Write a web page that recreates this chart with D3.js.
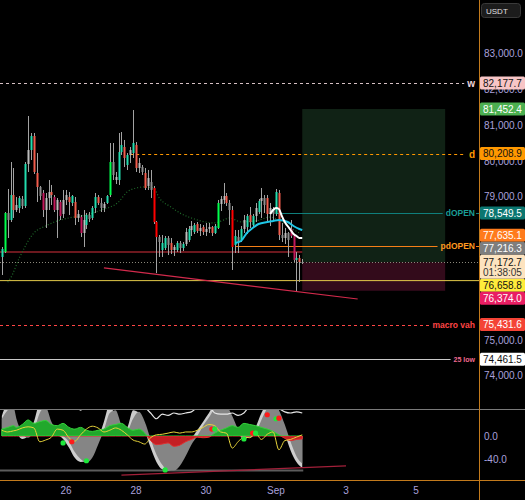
<!DOCTYPE html>
<html lang="en">
<head>
<meta charset="UTF-8">
<title>BTCUSDT 2h</title>
<script src="https://d3js.org/d3.v7.min.js"></script>
<style>
  body { margin: 0; background: #000; }
  svg { display: block; }
  .lbl { font-family: "Liberation Sans", Arial, sans-serif; font-size: 10px; fill: #a9a1dc; }
  .tag { font-family: "Liberation Sans", Arial, sans-serif; font-weight: bold; }
</style>
</head>
<body>
<svg id="chart" width="525" height="500"></svg>
<script>
// ---- candles (2h bars, first bar Aug 24 04:00 UTC) ----
var firstBar = Date.UTC(2024, 7, 24, 4);
var barMs = 2 * 3600 * 1000;

var open = [
  77319,77458,78548,78352,79050,78631,78687,78939,78743,79916,
  80307,80698,79665,79274,79106,78631,78966,79134,78994,78631,
  78855,78520,78911,78994,78827,78855,78408,78436,77989,78212,
  78492,78408,78687,78994,78827,78687,78827,79050,79972,79469,
  79469,80251,80391,79888,80168,80223,80447,79804,79832,79665,
  79302,79413,79246,78296,77877,77514,77570,77849,77710,77514,
  77514,77710,77570,77682,77793,78073,78017,78240,78045,78157,
  78017,78101,78157,77989,78129,78799,78911,79022,78827,78631,
  77654,77877,77793,78101,78157,78492,78212,78464,78575,78883,
  78966,78966,78520,78659,78520,79106,77933,77849,77989,78101,
  77905,77235,77291,77179];
var high = [
  77598,78575,79218,79972,79804,78994,79022,79022,79972,81257,
  80782,80782,80223,79302,79190,79106,79469,79330,79050,78966,
  78911,79190,79190,79134,79050,78994,78631,78492,78631,78548,
  78575,78743,79106,79050,78966,78855,79050,80503,80503,79693,
  80782,80810,80587,80223,80391,81424,80531,80084,79888,79804,
  79749,79749,79302,78324,77933,77933,77905,77905,77849,77654,
  77765,77765,77737,78129,78184,78324,78268,78296,78240,78212,
  78268,78268,78184,78240,78911,79022,79385,79106,78911,78743,
  78073,78073,78184,78492,78520,78715,78520,78827,78939,79246,
  79050,79050,78827,78715,79218,79190,78268,78129,78017,78352,
  77933,77458,77374,77263];
var low = [
  76816,77430,77849,78296,78408,78575,78548,78659,78687,79693,
  80028,79637,78855,78911,78436,78129,78631,78771,78575,77849,
  78352,78408,78771,78492,78743,78212,78296,77877,77598,78101,
  78296,78352,78548,78771,78575,78575,78799,78994,79469,79357,
  79330,80168,79832,79749,79944,80084,79693,79665,79609,79190,
  79190,78966,78240,76869,77319,77319,77514,77374,77402,77346,
  77458,77430,77486,77626,77737,77905,77961,77989,77905,77933,
  77905,77989,77905,77961,78101,78603,78799,78743,78212,76956,
  77430,77430,77737,77989,77961,78129,78129,78296,78520,78408,
  78548,78296,78184,78352,78464,77793,77737,77682,77319,77849,
  77179,76369,76620,77123];
var close = [
  77542,78548,78352,79050,78631,78771,78966,78743,79916,80307,
  80698,79693,79274,79022,78631,78966,79134,79050,78631,78911,
  78464,78911,79050,78855,79022,78408,78520,77989,78352,78492,
  78380,78687,78994,78827,78687,78799,79022,79972,79609,79553,
  80251,80447,80084,80168,80307,80503,79804,79944,79693,79246,
  79525,79190,78296,77877,77737,77710,77849,77654,77514,77598,
  77710,77570,77682,78017,78101,78184,78212,78045,78129,78017,
  78101,78157,77989,78184,78827,78939,79022,78827,78631,77598,
  77905,77737,78101,78352,78464,78296,78464,78687,78883,78966,
  78771,78520,78687,78520,79134,77933,77849,77989,77793,77905,
  77235,77291,77179,77172.7];
// volume class: 0 normal, 1 above average, 2 climax, 3 other
var barClass = [
  1,2,0,1,1,0,1,0,1,0, 1,1,1,0,3,0,0,1,3,0,
  3,0,0,1,1,1,0,3,0,1, 0,1,1,1,0,0,1,2,0,0,
  1,1,1,1,0,1,1,0,0,1, 0,0,2,2,0,1,1,0,1,0,
  1,0,1,0,1,0,1,1,0,1, 0,0,1,1,2,0,0,1,0,2,
  1,0,1,0,1,1,1,0,1,0, 0,1,0,0,1,1,0,0,0,3,
  3,1,1,0];

// ---- moving averages (bar index, price) ----
var emaIdx = [2,3,6,11,15,18,23,29,34,40,43,46,49,52,54,58,61,66,73,76,78,82,87,92,95,99,102];
var emaVal = [76620,76730,77290,77990,78185,78295,78410,78490,78630,78855,79135,79245,79275,79245,
              78965,78715,78550,78380,78270,78350,78410,78300,78325,78435,78350,78130,77990];
var cyanIdx = [80,82,84,86,88,91,93,95,98,100,102,103];
var cyanVal = [77710,77765,77989,78129,78240,78296,78324,78352,78296,78184,78101,78073];
var whiteIdx = [92,93,94,95,96,97,98,99,100,101,102,103];
var whiteVal = [78520,78631,78687,78659,78464,78296,78184,78073,77961,77905,77849,77849];

// ---- levels ----
var lastPrice = 77172.7;
var countdown = "01:38:05";
var levelNames  = ["w", "d", "dOPEN", "pdOPEN", "macro vah", "25 low"];
var levelPrices = [82177.7, 80208.9, 78549.5, 77635.1, 75431.6, 74461.5];
var levelStart  = [null, Date.UTC(2024,7,27,20), Date.UTC(2024,8,1,0), Date.UTC(2024,7,30,20), null, null];
var redLevel = 77458;
var yellowLevel = 76658.8;
var takeProfit = 81452.4, stopLoss = 76374.0;
var posStart = Date.UTC(2024,8,1,18), posEnd = Date.UTC(2024,8,5,20);
var trendIdx = [35, 122];
var trendVal = [77012, 76146];
var otherBadge = 77216.3;

// ---- axes ----
var priceTicks = [74000,75000,76000,77000,78000,79000,80000,81000,82000,83000];
var timeTicks = [Date.UTC(2024,7,26), Date.UTC(2024,7,28), Date.UTC(2024,7,30), Date.UTC(2024,8,1), Date.UTC(2024,8,3), Date.UTC(2024,8,5)];
var timeTickLabels = ["26", "28", "30", "Sep", "3", "5"];
var oscTicks = [0, -40];

// ---- oscillator pane (bar index samples) ----
var oscIdx = [0,2,4,5,7,9,11,13,15,17,19,21,23,25,27,29,31,33,35,37,39,41,43,45,47,49,51,53,55,57,59,61,63,65,67,69,71,73,75,77,79,81,83,85,87,89,91,93,95,97,99,101,103];
var wave1 = [35,55,40,10,-5,0,25,55,40,10,2,-5,-20,-38,-45,-44,-25,-5,25,55,30,10,15,45,40,10,-20,-45,-58,-60,-58,-45,-25,-5,10,25,40,55,55,50,20,5,-5,0,15,40,55,55,35,5,-25,-45,-55];
var wave2 = [30,45,50,30,5,-3,10,40,50,25,8,0,-10,-28,-40,-46,-38,-15,10,40,45,20,10,30,42,25,-5,-32,-50,-60,-60,-52,-35,-15,0,18,32,48,55,52,35,12,0,-3,5,28,48,56,45,20,-10,-35,-48];
var moneyFlow = [12,15,18,15,20,28,22,25,27,20,18,22,15,12,15,10,8,10,12,18,20,22,15,10,12,5,-8,-15,-14,-12,-18,-16,-10,-6,-2,-3,-2,5,10,14,18,15,22,20,18,15,12,8,2,-4,-8,-6,-5];
var rsiLine = [10,7,9,10,14,16,14,-10,-7,-2,12,10,-3,-9,2,12,17,14,7,10,14,10,2,-7,-10,-14,-3,2,3,5,7,5,7,7,10,15,20,18,7,5,-21,-10,-2,-3,5,-6,3,7,-24,-8,-6,-2,2];
var stochLine = [55,55,55,55,55,55,55,55,55,55,55,55,55,55,45,55,55,55,55,55,55,55,55,55,55,50,40,30,38,36,40,38,40,42,50,55,52,40,38,38,40,36,40,52,55,55,55,55,48,42,40,42,40];
var dotIdx = [21,24,29,56,72,73,83,86,87,91,94,95];
var dotVal = [-12,-10,-43,-59,12,12,-5,5,5,37,30,31];
var dotBull = [1,0,1,1,0,1,1,0,1,0,1,0];
var oscTrendIdx = [41, 118];
var oscTrendVal = [-68, -52];

// ---- scales ----
var plotRight = 479;
var xScale = d3.scaleUtc()
    .domain([new Date(Date.UTC(2024,7,26)), new Date(Date.UTC(2024,8,5))])
    .range([66, 416]);
var yScale = d3.scaleLinear().domain([74000, 83000]).range([375.8, 53.6]);
var oscScale = d3.scaleLinear().domain([-40, 0]).range([459, 436]);
function bx(i) { return xScale(new Date(firstBar + i * barMs)); }

var svg = d3.select("#chart");
svg.append("rect").attr("width", 525).attr("height", 500).attr("fill", "#000");

var defs = svg.append("defs");
defs.append("clipPath").attr("id", "mainClip").append("rect")
    .attr("x", 0).attr("y", 0).attr("width", plotRight).attr("height", 409);
defs.append("clipPath").attr("id", "oscClip").append("rect")
    .attr("x", 0).attr("y", 410).attr("width", plotRight).attr("height", 70);
defs.append("clipPath").attr("id", "posClip").append("rect")
    .attr("x", 0).attr("y", 410).attr("width", plotRight).attr("height", oscScale(0) - 410);
defs.append("clipPath").attr("id", "negClip").append("rect")
    .attr("x", 0).attr("y", oscScale(0)).attr("width", plotRight).attr("height", 480 - oscScale(0));

var main = svg.append("g").attr("clip-path", "url(#mainClip)");

// position tool
main.append("rect")
    .attr("x", xScale(new Date(posStart))).attr("width", xScale(new Date(posEnd)) - xScale(new Date(posStart)))
    .attr("y", yScale(takeProfit)).attr("height", yScale(lastPrice) - yScale(takeProfit))
    .attr("fill", "#102215");
main.append("rect")
    .attr("x", xScale(new Date(posStart))).attr("width", xScale(new Date(posEnd)) - xScale(new Date(posStart)))
    .attr("y", yScale(lastPrice)).attr("height", yScale(stopLoss) - yScale(lastPrice))
    .attr("fill", "#330b1b");

// plain horizontal lines
main.append("line").attr("x1", 0).attr("x2", xScale(new Date(posStart)))
    .attr("y1", yScale(redLevel)).attr("y2", yScale(redLevel))
    .attr("stroke", "#d8303c").attr("stroke-width", 1);
main.append("line").attr("x1", 0).attr("x2", plotRight)
    .attr("y1", Math.round(yScale(lastPrice)) + 0.5).attr("y2", Math.round(yScale(lastPrice)) + 0.5)
    .attr("stroke", "#8a877a").attr("stroke-dasharray", "1,2");
main.append("line").attr("x1", 0).attr("x2", plotRight)
    .attr("y1", yScale(yellowLevel)).attr("y2", yScale(yellowLevel))
    .attr("stroke", "#e3c94a").attr("stroke-width", 1);

// labelled levels
var levelStyle = [
  {line: "#d6c0c4", text: "#f0d6da", dash: "3,3", size: 10, tail: false},
  {line: "#ff9800", text: "#ff9800", dash: "3,3", size: 10, tail: false},
  {line: "#0f7f7c", text: "#1b9e96", dash: null, size: 8.5, tail: true},
  {line: "#f57f17", text: "#ff9a1f", dash: null, size: 8.5, tail: true},
  {line: "#ff4545", text: "#ff4545", dash: "3,3", size: 8.5, tail: false},
  {line: "#c9c9c9", text: "#f06a90", dash: null, size: 7, tail: false}
];
levelNames.forEach(function (name, k) {
    var st = levelStyle[k];
    var y = Math.round(yScale(levelPrices[k])) + 0.5;
    var t = main.append("text").attr("class", "tag")
        .attr("x", 475).attr("y", y + st.size * 0.35)
        .attr("text-anchor", "end").attr("font-size", st.size)
        .attr("fill", st.text).text(name);
    var w = t.node().getComputedTextLength();
    var x0 = levelStart[k] ? xScale(new Date(levelStart[k])) : 0;
    main.append("line").attr("x1", x0).attr("x2", 475 - w - 3)
        .attr("y1", y).attr("y2", y)
        .attr("stroke", st.line).attr("stroke-width", 1)
        .attr("stroke-dasharray", st.dash);
    if (st.tail) {
        main.append("line").attr("x1", 476).attr("x2", plotRight)
            .attr("y1", y).attr("y2", y).attr("stroke", st.line);
    }
});

// trend line
main.append("line")
    .attr("x1", bx(trendIdx[0])).attr("y1", yScale(trendVal[0]))
    .attr("x2", bx(trendIdx[1])).attr("y2", yScale(trendVal[1]))
    .attr("stroke", "#d22a4c").attr("stroke-width", 1.2);

// dotted moving average
main.append("path")
    .datum(emaIdx.map(function (d, k) { return [bx(d), yScale(emaVal[k])]; }))
    .attr("d", d3.line().curve(d3.curveMonotoneX))
    .attr("fill", "none").attr("stroke", "#1f6b2a").attr("stroke-width", 1.2)
    .attr("stroke-dasharray", "1,2");

// candles
function candleColor(i) {
    var up = close[i] >= open[i];
    var c = barClass[i];
    if (up) return ["#bdbdbd", "#22dcae", "#00ff4c", "#3d7bff"][c];
    return ["#8e8e8e", "#f25c4c", "#ff0000", "#c2185b"][c];
}
var candles = main.append("g");
d3.range(open.length).forEach(function (i) {
    var cx = Math.round(bx(i));
    candles.append("rect")
        .attr("x", cx).attr("width", 1)
        .attr("y", yScale(high[i])).attr("height", Math.max(1, yScale(low[i]) - yScale(high[i])))
        .attr("fill", "#a3a3a3");
    var top = yScale(Math.max(open[i], close[i]));
    var bot = yScale(Math.min(open[i], close[i]));
    candles.append("rect")
        .attr("x", cx - 0.5).attr("width", 2)
        .attr("y", top).attr("height", Math.max(1, bot - top))
        .attr("fill", candleColor(i));
});

// cyan and white lines
main.append("path")
    .datum(cyanIdx.map(function (d, k) { return [bx(d), yScale(cyanVal[k])]; }))
    .attr("d", d3.line().curve(d3.curveMonotoneX))
    .attr("fill", "none").attr("stroke", "#1fc6e6").attr("stroke-width", 2);
main.append("path")
    .datum(whiteIdx.map(function (d, k) { return [bx(d), yScale(whiteVal[k])]; }))
    .attr("d", d3.line().curve(d3.curveMonotoneX))
    .attr("fill", "none").attr("stroke", "#ffffff").attr("stroke-width", 2);

// ---- oscillator pane ----
var osc = svg.append("g").attr("clip-path", "url(#oscClip)");
function areaOf(vals) {
    return d3.area()
        .x(function (d, k) { return bx(oscIdx[k]); })
        .y0(oscScale(0))
        .y1(function (d) { return oscScale(d); })
        .curve(d3.curveMonotoneX)(vals);
}
function lineOf(vals) {
    return d3.line()
        .x(function (d, k) { return bx(oscIdx[k]); })
        .y(function (d) { return oscScale(d); })
        .curve(d3.curveMonotoneX)(vals);
}
osc.append("line").attr("x1", 0).attr("x2", bx(103) + 1)
    .attr("y1", oscScale(-60)).attr("y2", oscScale(-60))
    .attr("stroke", "#5c5c5c").attr("stroke-width", 2);
osc.append("path").attr("d", areaOf(wave1)).attr("fill", "#cdcdcd");
osc.append("path").attr("d", areaOf(wave2)).attr("fill", "#858585");
osc.append("path").attr("d", areaOf(moneyFlow)).attr("clip-path", "url(#posClip)")
    .attr("fill", "#21a82c").attr("stroke", "#35d23a").attr("stroke-width", 1);
osc.append("path").attr("d", areaOf(moneyFlow)).attr("clip-path", "url(#negClip)")
    .attr("fill", "#c41f24").attr("stroke", "#e03030").attr("stroke-width", 1);
osc.append("path").attr("d", lineOf(stochLine))
    .attr("fill", "none").attr("stroke", "#e6e6e6").attr("stroke-width", 1.2);
osc.append("path").attr("d", lineOf(rsiLine))
    .attr("fill", "none").attr("stroke", "#e8d43a").attr("stroke-width", 1);
osc.append("line")
    .attr("x1", bx(oscTrendIdx[0])).attr("y1", oscScale(oscTrendVal[0]))
    .attr("x2", bx(oscTrendIdx[1])).attr("y2", oscScale(oscTrendVal[1]))
    .attr("stroke", "#a3203a").attr("stroke-width", 1.2);
dotIdx.forEach(function (d, k) {
    osc.append("circle").attr("cx", bx(d)).attr("cy", oscScale(dotVal[k])).attr("r", 2.6)
        .attr("fill", dotBull[k] ? "#1ee83c" : "#ff1a1a");
});

// ---- frame lines ----
svg.append("line").attr("x1", 0).attr("x2", 525).attr("y1", 409.5).attr("y2", 409.5)
    .attr("stroke", "#7a7a7a");
svg.append("line").attr("x1", 0).attr("x2", 525).attr("y1", 480.5).attr("y2", 480.5)
    .attr("stroke", "#c27a1c");
svg.append("line").attr("x1", plotRight + 0.5).attr("x2", plotRight + 0.5).attr("y1", 0).attr("y2", 500)
    .attr("stroke", "#c27a1c");

// ---- price badges: positions, pushed apart around the last price ----
var fmt = d3.format(",.1f");
var badgePrices = [82177.7, takeProfit, levelPrices[1], levelPrices[2], levelPrices[3], otherBadge,
                   yellowLevel, stopLoss, levelPrices[4], levelPrices[5]];
var badgeStyle = [
  {fill: "#f7c5c6", text: "#111"}, {fill: "#4caf50", text: "#fff"}, {fill: "#ff9800", text: "#111"},
  {fill: "#0b7670", text: "#fff"}, {fill: "#ff7b1c", text: "#fff"}, {fill: "#7e7e7e", text: "#fff"},
  {fill: "#ffeb3b", text: "#111"}, {fill: "#e91e63", text: "#fff"}, {fill: "#f44336", text: "#fff"},
  {fill: "#ffffff", text: "#111"}
];
var bh = 13;
var curY = yScale(lastPrice);
var curTop = curY - 7.5, curBot = curY + 16.5;
var items = badgePrices.map(function (p, k) { return {p: p, y: yScale(p), st: badgeStyle[k]}; });
var limit = curTop;
items.filter(function (b) { return b.p > lastPrice; })
    .sort(function (a, b) { return a.p - b.p; })
    .forEach(function (b) { b.y = Math.min(b.y, limit - bh / 2); limit = b.y - bh / 2; });
limit = curBot;
items.filter(function (b) { return b.p < lastPrice; })
    .sort(function (a, b) { return b.p - a.p; })
    .forEach(function (b) { b.y = Math.max(b.y, limit + bh / 2); limit = b.y + bh / 2; });

// ---- price axis (labels hidden where a badge sits right on them) ----
priceTicks.forEach(function (p) {
    var ty = yScale(p);
    var covered = (ty > curTop && ty < curBot) ||
        items.some(function (b) { return Math.abs(b.y - ty) < 6; });
    if (covered) return;
    svg.append("text").attr("class", "lbl").attr("x", 484).attr("y", ty + 3.5).text(fmt(p));
});
oscTicks.forEach(function (v) {
    svg.append("text").attr("class", "lbl").attr("x", 484).attr("y", oscScale(v) + 3.5).text(v.toFixed(1));
});

// ---- time axis ----
timeTicks.forEach(function (t, k) {
    svg.append("text").attr("class", "lbl").attr("font-size", 10.5)
        .attr("x", xScale(new Date(t))).attr("y", 494).attr("text-anchor", "middle")
        .text(timeTickLabels[k]);
});

items.forEach(function (b) {
    svg.append("rect").attr("x", 480).attr("y", b.y - bh / 2).attr("width", 45).attr("height", bh)
        .attr("rx", 1.5).attr("fill", b.st.fill);
    svg.append("text").attr("class", "lbl").attr("x", 483).attr("y", b.y + 3.6)
        .style("fill", b.st.text).text(fmt(b.p));
});
svg.append("rect").attr("x", 480).attr("y", curTop).attr("width", 45).attr("height", curBot - curTop)
    .attr("rx", 1.5).attr("fill", "#fde3bf");
svg.append("text").attr("class", "lbl").attr("x", 483).attr("y", curY + 3.6)
    .style("fill", "#111").text(fmt(lastPrice));
svg.append("text").attr("class", "lbl").attr("x", 483).attr("y", curY + 14.2)
    .style("fill", "#333").text(countdown);

// currency box
svg.append("rect").attr("x", 481.5).attr("y", 3.5).attr("width", 39).attr("height", 14)
    .attr("rx", 3).attr("fill", "#1c1c1c").attr("stroke", "#3a3a3a");
svg.append("text").attr("x", 486).attr("y", 13.5)
    .attr("font-family", "Liberation Sans, Arial, sans-serif").attr("font-size", 8)
    .attr("fill", "#e0e0e0").text("USDT");
</script>
</body>
</html>
